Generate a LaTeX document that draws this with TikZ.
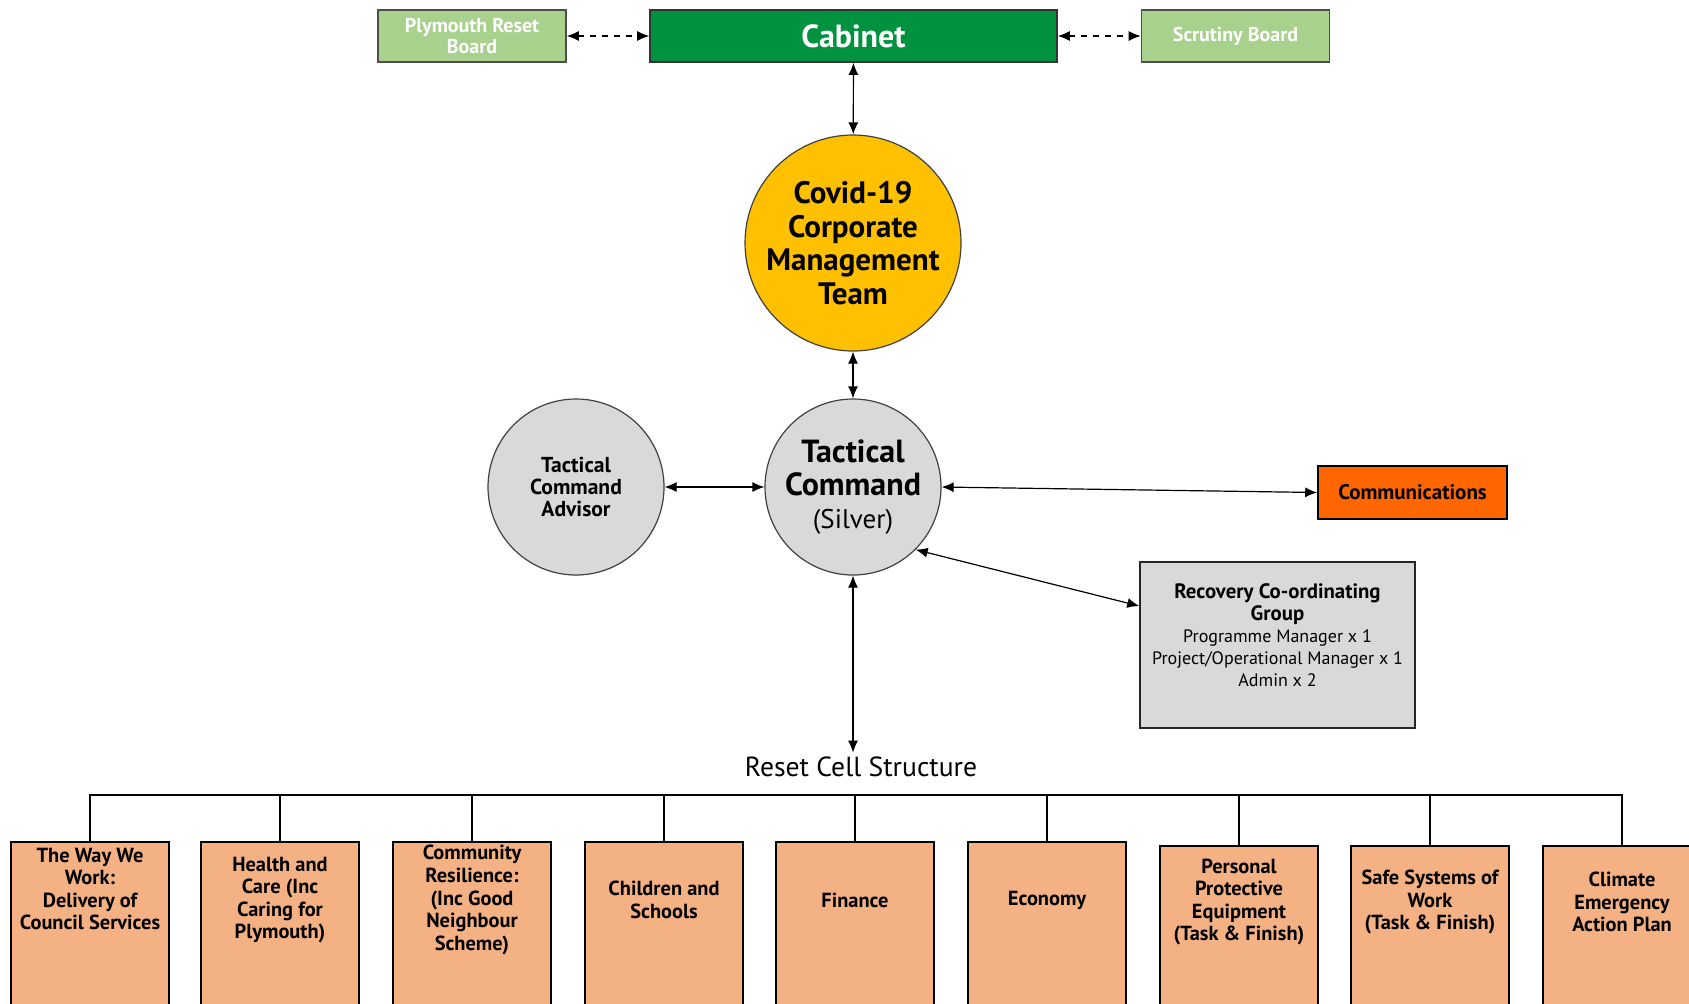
\documentclass[tikz,border=0pt]{standalone}
\usepackage{fontspec}
\setmainfont{PT Sans}
\usepackage{xcolor}
\usepackage{tikz}
\usetikzlibrary{positioning,arrows.meta}

\definecolor{cabgreen}{RGB}{0,146,63}
\definecolor{paleboard}{RGB}{169,209,142}
\definecolor{cmtgold}{RGB}{255,192,0}
\definecolor{silvergrey}{RGB}{217,217,217}
\definecolor{commorange}{RGB}{255,102,0}
\definecolor{cellpeach}{RGB}{244,177,131}
\newcommand{\rcghead}[1]{\textbf{\fontsize{10.4}{11}\selectfont #1}}

\begin{document}
\begin{tikzpicture}[x=0.5pt,y=-0.5pt,
	boardbox/.style={draw=black!70,line width=0.8pt,fill=paleboard,text=white,align=center,
		font=\bfseries\fontsize{10}{10.5}\selectfont,minimum width=94pt,minimum height=26pt,inner sep=1pt},
	roundbox/.style={circle,draw=black!75,line width=0.6pt,align=center,inner sep=0pt},
	cellbox/.style={draw=black,line width=0.8pt,fill=cellpeach,anchor=north,minimum width=79pt,minimum height=110pt},
	celltext/.style={align=center,font=\bfseries\fontsize{10.2}{11.3}\selectfont},
	link/.style={line width=0.6pt,{Latex[length=6pt,width=5pt]}-{Latex[length=6pt,width=5pt]}},
	stem/.style={line width=0.6pt}]
	\useasboundingbox (0,0) rectangle (1689,1003);
	\clip (0,0) rectangle (1689,1003);
	\node[boardbox] (prb) at (472,36) {Plymouth Reset\\Board};
	\node[draw=black!80,line width=0.8pt,fill=cabgreen,text=white,font=\bfseries\fontsize{16}{18}\selectfont,
		minimum width=203.5pt,minimum height=26pt] (cab) at (853.5,36) {Cabinet};
	\node[boardbox] (scr) at (1235.5,36) {Scrutiny Board};
	\node[roundbox,fill=cmtgold,minimum size=108pt,font=\bfseries\fontsize{15.5}{16.8}\selectfont] (cmt) at (853,243)
		{Covid-19\\Corporate\\Management\\Team};
	\node[roundbox,fill=silvergrey,minimum size=88pt,font=\fontsize{16}{16.7}\selectfont] (tc) at (853,487)
		{\textbf{Tactical}\\\textbf{Command}\\\fontsize{13.5}{16.7}\selectfont(Silver)};
	\node[roundbox,fill=silvergrey,minimum size=88pt,font=\bfseries\fontsize{10.8}{11}\selectfont] (adv) at (576,487)
		{Tactical\\Command\\Advisor};
	\node[draw=black,line width=0.8pt,fill=commorange,font=\bfseries\fontsize{10.5}{11}\selectfont,
		minimum width=94.5pt,minimum height=26.5pt] (comm) at (1412.5,492.5) {Communications};
	\node[draw=black!85,line width=0.8pt,fill=silvergrey,minimum width=137.5pt,minimum height=83pt] (rcg) at (1277.5,645) {};
	\node[align=center,font=\fontsize{9}{11}\selectfont] (rcgt) at (1277.5,635)
		{\rcghead{Recovery Co-ordinating}\\\rcghead{Group}\\Programme Manager x 1\\Project/Operational Manager x 1\\Admin x 2};
	\node[font=\fontsize{13.8}{15}\selectfont,inner sep=2pt] (reset) at (861,767) {Reset Cell Structure};
	\coordinate (bus) at (0,795);
	\node[cellbox] (c1) at (90,841) {};
	\node[cellbox] (c2) at (280,841) {};
	\node[cellbox] (c3) at (472,841) {};
	\node[cellbox] (c4) at (664,841) {};
	\node[cellbox] (c5) at (855,841) {};
	\node[cellbox] (c6) at (1047,841) {};
	\node[cellbox] (c7) at (1239,845) {};
	\node[cellbox] (c8) at (1430,845) {};
	\node[cellbox] (c9) at (1622,845) {};
	\node[celltext] (c1t) at (90,889) {The Way We\\Work:\\Delivery of\\Council Services};
	\node[celltext] (c2t) at (280,900) {Health and\\Care (Inc\\Caring for\\Plymouth)};
	\node[celltext] (c3t) at (472,900) {Community\\Resilience:\\(Inc Good\\Neighbour\\Scheme)};
	\node[celltext] (c4t) at (664,900) {Children and\\Schools};
	\node[celltext] (c5t) at (855,900) {Finance};
	\node[celltext] (c6t) at (1047,900) {Economy};
	\node[celltext] (c7t) at (1239,902) {Personal\\Protective\\Equipment\\(Task \& Finish)};
	\node[celltext] (c8t) at (1430,902) {Safe Systems of\\Work\\(Task \& Finish)};
	\node[celltext] (c9t) at (1622,902) {Climate\\Emergency\\Action Plan};
	\draw[link,dashed] (prb) -- (cab);
	\draw[link,dashed] (cab) -- (scr);
	\draw[link] (cab) -- (cmt);
	\draw[link] (cmt) -- (tc);
	\draw[link] (adv.east) -- (tc.west);
	\draw[link] (tc.east) -- (comm.west);
	\draw[link] (tc.-45) -- ([yshift=19.5pt]rcg.west);
	\draw[link] (tc.south) -- (reset.north -| tc.south);
	\draw[stem] (c1.north) -- (c1.north |- bus) -- (c9.north |- bus) -- (c9.north);
	\draw[stem] (c2.north) -- (c2.north |- bus);
	\draw[stem] (c3.north) -- (c3.north |- bus);
	\draw[stem] (c4.north) -- (c4.north |- bus);
	\draw[stem] (c5.north) -- (c5.north |- bus);
	\draw[stem] (c6.north) -- (c6.north |- bus);
	\draw[stem] (c7.north) -- (c7.north |- bus);
	\draw[stem] (c8.north) -- (c8.north |- bus);
\end{tikzpicture}
\end{document}
